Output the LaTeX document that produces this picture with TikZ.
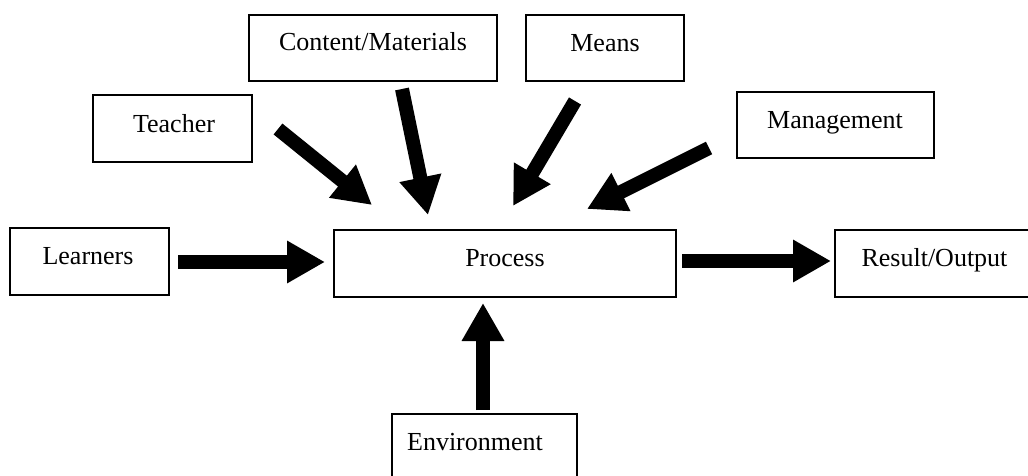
\documentclass[tikz,border=0pt]{standalone}
\usepackage{fontspec}
\setmainfont{Liberation Serif}
\usetikzlibrary{arrows.meta}

\begin{document}
\begin{tikzpicture}[x=1pt,y=-1pt,
  box/.style={draw=black, line width=1.2pt, rectangle, inner sep=0pt},
  lbl/.style={anchor=base, inner sep=0pt, font=\fontsize{26}{30}\selectfont},
  bigarrow/.style={line width=14pt, -{Triangle[length=38pt,width=40pt]}}]
  \useasboundingbox (0,0) rectangle (1028,476);

  % boxes, placed by their centres
  \node[box, minimum width=248pt, minimum height=66pt] (content) at (373,48) {};
  \node[box, minimum width=158pt, minimum height=66pt] (means) at (605,48) {};
  \node[box, minimum width=159pt, minimum height=67pt] (teacher) at (172.5,128.5) {};
  \node[box, minimum width=197pt, minimum height=66pt] (management) at (835.5,125) {};
  \node[box, minimum width=159pt, minimum height=67pt] (learners) at (89.5,261.5) {};
  \node[box, minimum width=342pt, minimum height=67pt] (process) at (505,263.5) {};
  \node[box, minimum width=205pt, minimum height=67pt] (result) at (937.5,263.5) {};
  \node[box, minimum width=185pt, minimum height=76pt] (environment) at (484.5,452) {};

  % labels, set on their baselines
  \node[lbl] (content-t) at (373,51) {Content/Materials};
  \node[lbl] (means-t) at (605,51.5) {Means};
  \node[lbl] (teacher-t) at (174,132.5) {Teacher};
  \node[lbl] (management-t) at (835,128.5) {Management};
  \node[lbl] (learners-t) at (88,264.5) {Learners};
  \node[lbl] (process-t) at (505,266.5) {Process};
  \node[lbl] (result-t) at (934.5,266) {Result/Output};
  \node[lbl] (environment-t) at (475,450) {Environment};

  % arrow ends
  \coordinate (teacher-out) at (278,129);
  \coordinate (teacher-in) at (372,205);
  \coordinate (content-out) at (402,89);
  \coordinate (content-in) at (428,215);
  \coordinate (means-out) at (575,101);
  \coordinate (means-in) at (513,206);
  \coordinate (management-out) at (709,148);
  \coordinate (management-in) at (587,209);
  \coordinate (learners-out) at (178,262);
  \coordinate (learners-in) at (325,262);
  \coordinate (result-out) at (682,261);
  \coordinate (result-in) at (831,261);
  \coordinate (environment-out) at (483,410);
  \coordinate (environment-in) at (483,303);

  % flows into and out of the process
  \draw[bigarrow] (teacher-out) -- (teacher-in);
  \draw[bigarrow] (content-out) -- (content-in);
  \draw[bigarrow] (means-out) -- (means-in);
  \draw[bigarrow] (management-out) -- (management-in);
  \draw[bigarrow] (learners-out) -- (learners-in);
  \draw[bigarrow] (result-out) -- (result-in);
  \draw[bigarrow] (environment-out) -- (environment-in);
\end{tikzpicture}
\end{document}
